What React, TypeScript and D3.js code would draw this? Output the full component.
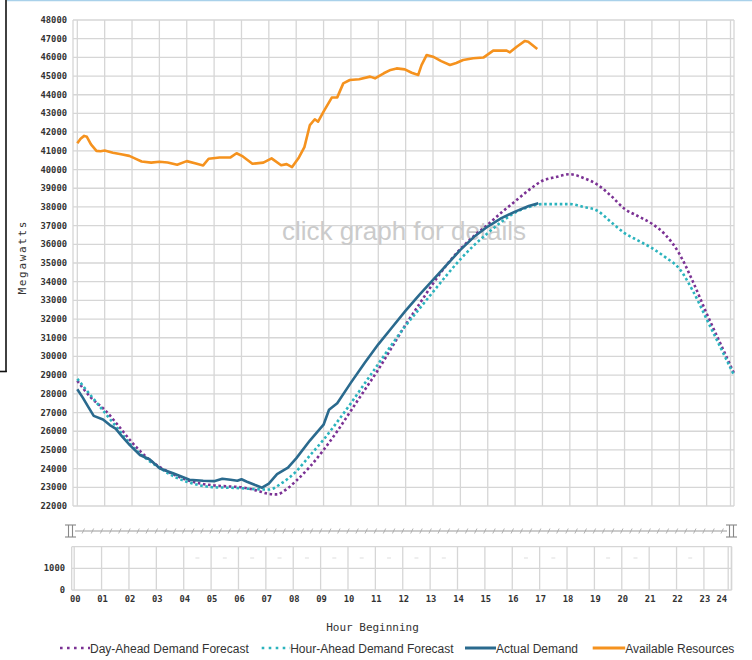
import React from "react";
import * as d3 from "d3";

const yTicks = [22000,23000,24000,25000,26000,27000,28000,29000,30000,31000,32000,33000,34000,35000,36000,37000,38000,39000,40000,41000,42000,43000,44000,45000,46000,47000,48000];
const hourLabels = ["00","01","02","03","04","05","06","07","08","09","10","11","12","13","14","15","16","17","18","19","20","21","22","23","24"];

const availHours = [0,0.12,0.25,0.35,0.5,0.7,0.85,1.0,1.3,1.6,1.9,2.1,2.35,2.7,3.0,3.3,3.65,4.0,4.3,4.6,4.8,5.2,5.6,5.82,6.05,6.4,6.8,7.1,7.45,7.65,7.85,8.1,8.3,8.5,8.68,8.8,9.0,9.3,9.5,9.72,9.96,10.3,10.7,10.88,11.2,11.45,11.67,11.97,12.22,12.46,12.58,12.77,13.0,13.3,13.62,13.85,14.1,14.47,14.84,15.2,15.69,15.81,16.06,16.36,16.48,16.81];
const availMW = [41400,41650,41800,41750,41350,41000,40980,41020,40900,40820,40730,40600,40430,40370,40420,40380,40260,40450,40330,40220,40580,40640,40650,40870,40700,40310,40370,40600,40230,40290,40130,40650,41200,42380,42690,42560,43100,43850,43860,44610,44790,44830,44970,44880,45150,45330,45410,45360,45180,45060,45590,46130,46040,45800,45590,45700,45860,45950,45990,46360,46360,46270,46570,46880,46840,46450];

const actualHours = [0,0.2,0.4,0.6,0.94,1.19,1.4,1.65,1.92,2.29,2.65,3.02,3.5,4.1,4.6,5.0,5.3,5.6,5.85,6.0,6.2,6.5,6.75,7.0,7.3,7.7,8.0,8.5,9.0,9.2,9.5,10.0,10.5,11.0,11.5,12.0,12.5,13.0,13.5,14.0,14.5,15.0,15.5,16.0,16.5,16.85];
const actualMW = [28250,27800,27300,26820,26630,26330,26140,25700,25260,24730,24490,24010,23750,23400,23350,23330,23460,23400,23350,23430,23300,23120,22980,23200,23700,24050,24550,25500,26350,27150,27500,28600,29650,30650,31550,32450,33300,34100,34900,35700,36400,36950,37400,37750,38050,38200];

const dayAheadHours = [0,0.5,1,1.5,2,2.5,3,3.5,4,4.5,5,5.5,6,6.5,7,7.3,7.6,8,8.5,9,9.5,10,10.5,11,11.5,12,12.5,13,13.5,14,14.5,15,15.5,16,16.5,17,17.5,18,18.5,19,19.5,20,20.5,21,21.5,22,22.5,23,23.5,24];
const dayAheadMW = [28700,27800,27150,26300,25400,24650,24100,23700,23400,23200,23100,23050,23000,22850,22650,22620,22850,23350,24100,25000,26000,27100,28200,29300,30500,31700,32800,33900,34900,35750,36450,37050,37700,38300,38900,39400,39600,39750,39550,39200,38600,37900,37500,37100,36500,35500,34000,32300,30700,29100];

const hourAheadHours = [0,0.5,1,1.5,2,2.5,3,3.5,4,4.5,5,5.5,6,6.5,7,7.5,8,8.5,9,9.5,10,10.5,11,11.5,12,12.5,13,13.5,14,14.5,15,15.5,16,16.5,17,17.5,18,18.5,19,19.5,20,20.5,21,21.5,22,22.5,23,23.5,24];
const hourAheadMW = [28800,27900,27000,26100,25200,24550,24050,23600,23300,23100,23000,22980,22950,22900,22880,23250,23850,24700,25550,26500,27500,28550,29600,30650,31650,32550,33450,34350,35200,35950,36600,37200,37700,38000,38150,38150,38150,38000,37800,37200,36600,36200,35800,35300,34700,33500,32000,30500,29000];

const navMarkHours = [4.5,5.5,6.5,7.5,8.5,9.5,10.5,11.5,12.5,13.5,16.5,17.5,19.5,20.5,22.5];
const navTicks = [0,1000];

const legendItems = [
  { label: "Day-Ahead Demand Forecast", color: "#7b3294", dotted: true },
  { label: "Hour-Ahead Demand Forecast", color: "#2bb3bd", dotted: true },
  { label: "Actual Demand", color: "#2a6a8e", dotted: false },
  { label: "Available Resources", color: "#f5921e", dotted: false },
];

const COLORS = { day: "#7b3294", hour: "#2bb3bd", actual: "#2a6a8e", avail: "#f5921e" };
const GRID = "#d6d6d6";
const MONO = "'DejaVu Sans Mono', 'Liberation Mono', monospace";
const SANS = "'Liberation Sans', Arial, sans-serif";

export default function App() {
  const x = d3.scaleLinear().domain([0, 24]).range([77.3, 734]);
  const y = d3.scaleLinear().domain([22000, 48000]).range([506, 20]);
  const nx = d3.scaleLinear().domain([0, 24]).range([74.2, 731.3]);
  const ny = d3.scaleLinear().domain([0, 1000]).range([590, 568.3]);

  const mk = (hs: number[], vs: number[]) =>
    d3.line<number>().x((_, i) => x(hs[i])).y((v) => y(v)).curve(d3.curveMonotoneX)(vs) || "";
  const mkLin = (hs: number[], vs: number[]) =>
    d3.line<number>().x((_, i) => x(hs[i])).y((v) => y(v))(vs) || "";

  const hours = d3.range(0, 25);
  const slashes = d3.range(1, 72).map((k) => k / 3);

  const legendX = [60, 261.7, 465, 592.7];
  const legendLineW = [30, 28.5, 31, 32.5];

  return (
    <svg width={752} height={660} style={{ position: "absolute", left: 0, top: 0, background: "#fff" }}>
      <line x1={7} y1={0.5} x2={752} y2={0.5} stroke="#a9d1ea" strokeWidth={1.5} />
      <line x1={6} y1={0} x2={6} y2={372} stroke="#111" strokeWidth={1.6} />
      <line x1={0} y1={371.5} x2={6.8} y2={371.5} stroke="#111" strokeWidth={1.6} />

      {yTicks.map((t) => (
        <line key={"h" + t} x1={73} x2={734} y1={y(t)} y2={y(t)} stroke={GRID} strokeWidth={1.3} />
      ))}
      {hours.map((h) => (
        <line key={"v" + h} x1={x(h)} x2={x(h)} y1={20} y2={506} stroke={GRID} strokeWidth={1.3} />
      ))}
      <line x1={73} x2={73} y1={20} y2={506} stroke={GRID} strokeWidth={1.3} />
      <line x1={730.5} x2={730.5} y1={20} y2={506} stroke={GRID} strokeWidth={1.3} />

      {yTicks.map((t) => (
        <text key={"yl" + t} x={67} y={y(t) + 3} textAnchor="end" fontFamily={MONO} fontWeight="bold" fontSize={8.8} fill="#333">
          {t}
        </text>
      ))}
      <text
        transform="translate(26,258) rotate(-90)"
        textAnchor="middle"
        fontFamily={MONO}
        fontSize={11}
        fill="#333"
        textLength={73}
        lengthAdjust="spacing"
      >
        Megawatts
      </text>

      <text x={404} y={240} textAnchor="middle" fontFamily={SANS} fontSize={26} fill="#cbcbcb">
        click graph for details
      </text>

      <path d={mkLin(availHours, availMW)} fill="none" stroke={COLORS.avail} strokeWidth={2.6} strokeLinejoin="round" />
      <path d={mk(dayAheadHours, dayAheadMW)} fill="none" stroke={COLORS.day} strokeWidth={2.6} strokeDasharray="2.6 2.6" />
      <path d={mk(hourAheadHours, hourAheadMW)} fill="none" stroke={COLORS.hour} strokeWidth={2.6} strokeDasharray="2.6 2.6" />
      <path d={mkLin(actualHours, actualMW)} fill="none" stroke={COLORS.actual} strokeWidth={2.6} strokeLinejoin="round" />

      <line x1={75} x2={727} y1={531} y2={531} stroke="#999" strokeWidth={1.2} />
      {slashes.map((h) => (
        <line key={"s" + h} x1={nx(h) - 1.2} y1={533.5} x2={nx(h) + 1.2} y2={528.5} stroke="#aaa" strokeWidth={0.9} />
      ))}
      {[66, 727].map((hx) => (
        <g key={"hd" + hx} stroke="#888" strokeWidth={1.1} fill="none">
          <line x1={hx - 1} x2={hx + 10} y1={525} y2={525} />
          <line x1={hx - 1} x2={hx + 10} y1={537} y2={537} />
          <line x1={hx + 2.5} x2={hx + 2.5} y1={525} y2={537} />
          <line x1={hx + 6.5} x2={hx + 6.5} y1={525} y2={537} />
        </g>
      ))}

      <line x1={71.7} x2={731.7} y1={546.7} y2={546.7} stroke={GRID} strokeWidth={1.3} />
      {navTicks.map((t) => (
        <line key={"nt" + t} x1={71.7} x2={731.7} y1={ny(t)} y2={ny(t)} stroke={GRID} strokeWidth={1.3} />
      ))}
      {hours.map((h) => (
        <line key={"nv" + h} x1={nx(h)} x2={nx(h)} y1={546.7} y2={590} stroke={GRID} strokeWidth={1.3} />
      ))}
      <line x1={71.7} x2={71.7} y1={546.7} y2={590} stroke={GRID} strokeWidth={1.3} />
      <line x1={728.2} x2={728.2} y1={546.7} y2={590} stroke={GRID} strokeWidth={1.3} />
      <line x1={731.7} x2={731.7} y1={546.7} y2={590} stroke={GRID} strokeWidth={1.3} />
      {navMarkHours.map((h) => (
        <line key={"nm" + h} x1={nx(h) - 2} x2={nx(h) + 2} y1={558} y2={558} stroke="#ddd" strokeWidth={1} />
      ))}
      {navTicks.map((t) => (
        <text key={"nyl" + t} x={65} y={ny(t) + 3} textAnchor="end" fontFamily={MONO} fontWeight="bold" fontSize={8.8} fill="#333">
          {t}
        </text>
      ))}
      {hourLabels.map((lab, i) => (
        <text
          key={"xl" + lab}
          x={i === 24 ? 727 : nx(i) + 1}
          y={602}
          textAnchor={i === 24 ? "end" : "middle"}
          fontFamily={MONO}
          fontWeight="bold"
          fontSize={8.8}
          fill="#333"
        >
          {lab}
        </text>
      ))}

      <text x={372.5} y={630.5} textAnchor="middle" fontFamily={MONO} fontSize={11} fill="#333">
        Hour Beginning
      </text>

      {legendItems.map((it, i) => (
        <g key={it.label}>
          <line
            x1={legendX[i]}
            x2={legendX[i] + legendLineW[i]}
            y1={648}
            y2={648}
            stroke={it.color}
            strokeWidth={it.dotted ? 2.6 : 3}
            strokeDasharray={it.dotted ? "2.6 4.4" : undefined}
          />
          <text x={legendX[i] + legendLineW[i]} y={652.5} fontFamily={SANS} fontSize={12} fill="#333">
            {it.label}
          </text>
        </g>
      ))}
    </svg>
  );
}
